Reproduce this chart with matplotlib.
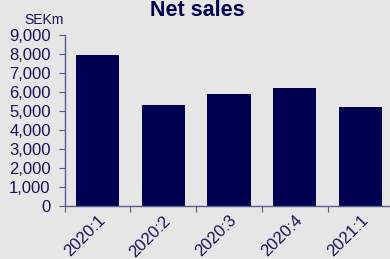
import matplotlib
matplotlib.use("Agg")
import matplotlib.pyplot as plt

categories = ["2020:1", "2020:2", "2020:3", "2020:4", "2021:1"]
net_sales = [7950, 5290, 5920, 6210, 5210]
yticks = [0, 1000, 2000, 3000, 4000, 5000, 6000, 7000, 8000, 9000]

bg = "#e6e6e6"
navy = "#000050"
txt = "#14145a"

plt.rcParams['font.family'] = ['Liberation Sans', 'DejaVu Sans']
fig = plt.figure(figsize=(3.9, 2.59), dpi=100, facecolor=bg)
W, H = 390, 259
left, right = 64.6, 393.4
top, bottom = 35, 206
ax = fig.add_axes([left / W, 1 - bottom / H, (right - left) / W, (bottom - top) / H])
ax.set_facecolor(bg)
x = list(range(len(categories)))
ax.bar(x, net_sales, width=0.66, color=navy)
ax.set_xlim(-0.5, len(categories) - 0.5)
ax.set_ylim(0, 9000)
ax.set_yticks(yticks)
ax.set_yticklabels([f"{v:,}" for v in yticks], fontsize=12, color=txt)
ax.set_xticks([i - 0.5 for i in range(len(categories))])
ax.set_xticklabels([])
ax.set_xticks(x, minor=True)
ax.set_xticklabels(categories, minor=True, rotation=45, ha='right', rotation_mode='anchor',
                   fontsize=12, color=txt)
ax.tick_params(axis='x', which='minor', length=0, pad=5)
ax.tick_params(axis='x', which='major', length=4, direction='out', color='#5a5a8c')
ax.tick_params(axis='y', length=4, direction='out', color='#5a5a8c', pad=6)
for s in ['top', 'right']:
    ax.spines[s].set_visible(False)
for s in ['left', 'bottom']:
    ax.spines[s].set_color('#5a5a8c')
    ax.spines[s].set_linewidth(1)
fig.text(197 / W, 1 - 10 / H, "Net sales", ha='center', va='center', fontsize=15.5,
         fontweight='heavy', color=navy, family=['Liberation Sans', 'DejaVu Sans'])
fig.text(44 / W, 1 - 20 / H, "SEKm", ha='center', va='center', fontsize=10, color=txt)
fig.savefig("out.png", dpi=100, facecolor=bg)
